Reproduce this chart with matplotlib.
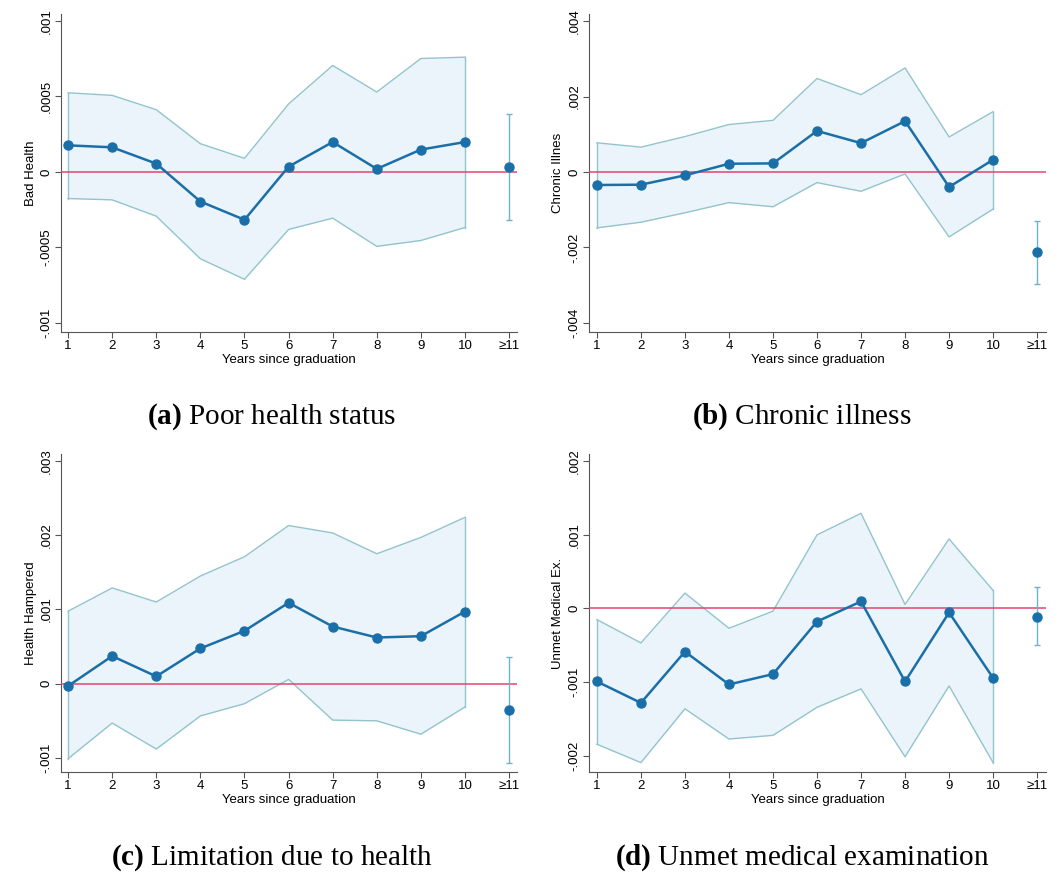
import matplotlib
matplotlib.use("Agg")
import matplotlib.pyplot as plt
import numpy as np

plt.rcParams['font.family'] = ['Liberation Sans', 'DejaVu Sans']
plt.rcParams['mathtext.fontset'] = 'custom'
plt.rcParams['mathtext.rm'] = 'Liberation Serif'
plt.rcParams['mathtext.bf'] = 'Liberation Serif:bold'

years = [1, 2, 3, 4, 5, 6, 7, 8, 9, 10]
xlabels = ["1", "2", "3", "4", "5", "6", "7", "8", "9", "10", "\u226511"]

# (a) Bad Health
a_est = [0.000176, 0.000163, 0.000055, -0.000196, -0.000317, 0.000035, 0.000198, 0.00002, 0.000148, 0.000198]
a_hi = [0.000524, 0.000507, 0.000412, 0.000187, 0.00009, 0.00045, 0.000705, 0.000529, 0.000751, 0.00076]
a_lo = [-0.000176, -0.000185, -0.000293, -0.000575, -0.000711, -0.000381, -0.000306, -0.000493, -0.000454, -0.000368]
a_last = (0.000033, -0.000317, 0.000383)

# (b) Chronic illness
b_est = [-0.000344, -0.000335, -0.000088, 0.00022, 0.000229, 0.00109, 0.000767, 0.00135, -0.000396, 0.000326]
b_hi = [0.000775, 0.00066, 0.00094, 0.00126, 0.00137, 0.00248, 0.00205, 0.00276, 0.00093, 0.0016]
b_lo = [-0.00148, -0.00133, -0.00108, -0.00081, -0.00092, -0.00028, -0.00051, -0.00005, -0.00172, -0.00098]
b_last = (-0.00213, -0.00296, -0.00129)

# (c) Health hampered
c_est = [-0.000031, 0.000372, 0.0000985, 0.000475, 0.000712, 0.00109, 0.00077, 0.000622, 0.00064, 0.000972]
c_hi = [0.000976, 0.00129, 0.0011, 0.00145, 0.00171, 0.00213, 0.00203, 0.00175, 0.00197, 0.00224]
c_lo = [-0.00101, -0.00053, -0.00088, -0.000434, -0.000269, 0.0000582, -0.00049, -0.0005, -0.00068, -0.000313]
c_last = (-0.000358, -0.00107, 0.000363)

# (d) Unmet medical examination
d_est = [-0.00099, -0.00128, -0.000585, -0.00103, -0.00089, -0.000177, 0.0000952, -0.00099, -0.0000544, -0.000943]
d_hi = [-0.00015, -0.000467, 0.000209, -0.000268, -0.0000363, 0.000998, 0.00129, 0.0000544, 0.000943, 0.000245]
d_lo = [-0.00184, -0.00209, -0.00136, -0.00177, -0.00172, -0.00134, -0.00109, -0.00201, -0.00105, -0.00209]
d_last = (-0.000118, -0.000494, 0.00029)

panels = [
    dict(est=a_est, hi=a_hi, lo=a_lo, last=a_last, ylabel="Bad Health",
         yticks=[-0.001, -0.0005, 0, 0.0005, 0.001],
         ytl=["-.001", "-.0005", "0", ".0005", ".001"],
         ylim=(-0.00106, 0.001046), xlim=(0.84, 11.18),
         pos=[0.0575, 0.6197, 0.4298, 0.3643],
         cap=r"$\mathbf{(a)}$ Poor health status", capxy=(0.2565, 0.5223)),
    dict(est=b_est, hi=b_hi, lo=b_lo, last=b_last, ylabel="Chronic Illnes",
         yticks=[-0.004, -0.002, 0, 0.002, 0.004],
         ytl=["-.004", "-.002", "0", ".002", ".004"],
         ylim=(-0.00424, 0.00419), xlim=(0.82, 11.2),
         pos=[0.5551, 0.6197, 0.4307, 0.3643],
         cap=r"$\mathbf{(b)}$ Chronic illness", capxy=(0.756, 0.5223)),
    dict(est=c_est, hi=c_hi, lo=c_lo, last=c_last, ylabel="Health Hampered",
         yticks=[-0.001, 0, 0.001, 0.002, 0.003],
         ytl=["-.001", "0", ".001", ".002", ".003"],
         ylim=(-0.001189, 0.003094), xlim=(0.84, 11.18),
         pos=[0.0575, 0.1157, 0.4298, 0.3643],
         cap=r"$\mathbf{(c)}$ Limitation due to health", capxy=(0.2565, 0.0172)),
    dict(est=d_est, hi=d_hi, lo=d_lo, last=d_last, ylabel="Unmet Medical Ex.",
         yticks=[-0.002, -0.001, 0, 0.001, 0.002],
         ytl=["-.002", "-.001", "0", ".001", ".002"],
         ylim=(-0.002217, 0.002095), xlim=(0.82, 11.2),
         pos=[0.5551, 0.1157, 0.4307, 0.3643],
         cap=r"$\mathbf{(d)}$ Unmet medical examination", capxy=(0.756, 0.0172)),
]

line_col = "#1b6fa8"
fill_col = "#ebf4fb"
edge_col = "#93c4cc"
zero_col = "#e2466d"
err_col = "#6fb3cc"

fig = plt.figure(figsize=(10.61, 8.73), dpi=100)

for p in panels:
    ax = fig.add_axes(p["pos"])
    x = np.array(years)
    ax.fill_between(x, p["lo"], p["hi"], color=fill_col, lw=0, zorder=1)
    ax.plot(x, p["hi"], color=edge_col, lw=1.0, zorder=2)
    ax.plot(x, p["lo"], color=edge_col, lw=1.0, zorder=2)
    ax.plot([1, 1], [p["lo"][0], p["hi"][0]], color=edge_col, lw=1.0, zorder=2)
    ax.plot([10, 10], [p["lo"][-1], p["hi"][-1]], color=edge_col, lw=1.0, zorder=2)
    ax.axhline(0, color=zero_col, lw=1.1, zorder=3)
    ax.plot(x, p["est"], color=line_col, lw=1.8, marker="o", ms=6.5, zorder=4)
    est11, lo11, hi11 = p["last"]
    ax.errorbar([11], [est11], yerr=[[est11 - lo11], [hi11 - est11]], fmt="none",
                ecolor=err_col, elinewidth=1.0, capsize=2, capthick=1.0, zorder=3)
    ax.plot([11], [est11], "o", color=line_col, ms=6.5, zorder=4)

    ax.set_xlim(*p["xlim"])
    ax.set_ylim(*p["ylim"])
    ax.set_xticks(range(1, 12))
    ax.set_xticklabels(xlabels)
    ax.set_yticks(p["yticks"])
    ax.set_yticklabels(p["ytl"], rotation=90, va="center")
    ax.tick_params(labelsize=9.5, length=4, width=0.8, color="#555555", pad=2)
    ax.set_xlabel("Years since graduation", fontsize=9.5, labelpad=1)
    ax.set_ylabel(p["ylabel"], fontsize=9.5, labelpad=3)
    for s in ["top", "right"]:
        ax.spines[s].set_visible(False)
    for s in ["left", "bottom"]:
        ax.spines[s].set_color("#555555")
        ax.spines[s].set_linewidth(0.8)

    fig.text(p["capxy"][0], p["capxy"][1], p["cap"], ha="center", va="center",
             fontsize=21, family="Liberation Serif")

fig.savefig("out.png", dpi=100, facecolor="white")
